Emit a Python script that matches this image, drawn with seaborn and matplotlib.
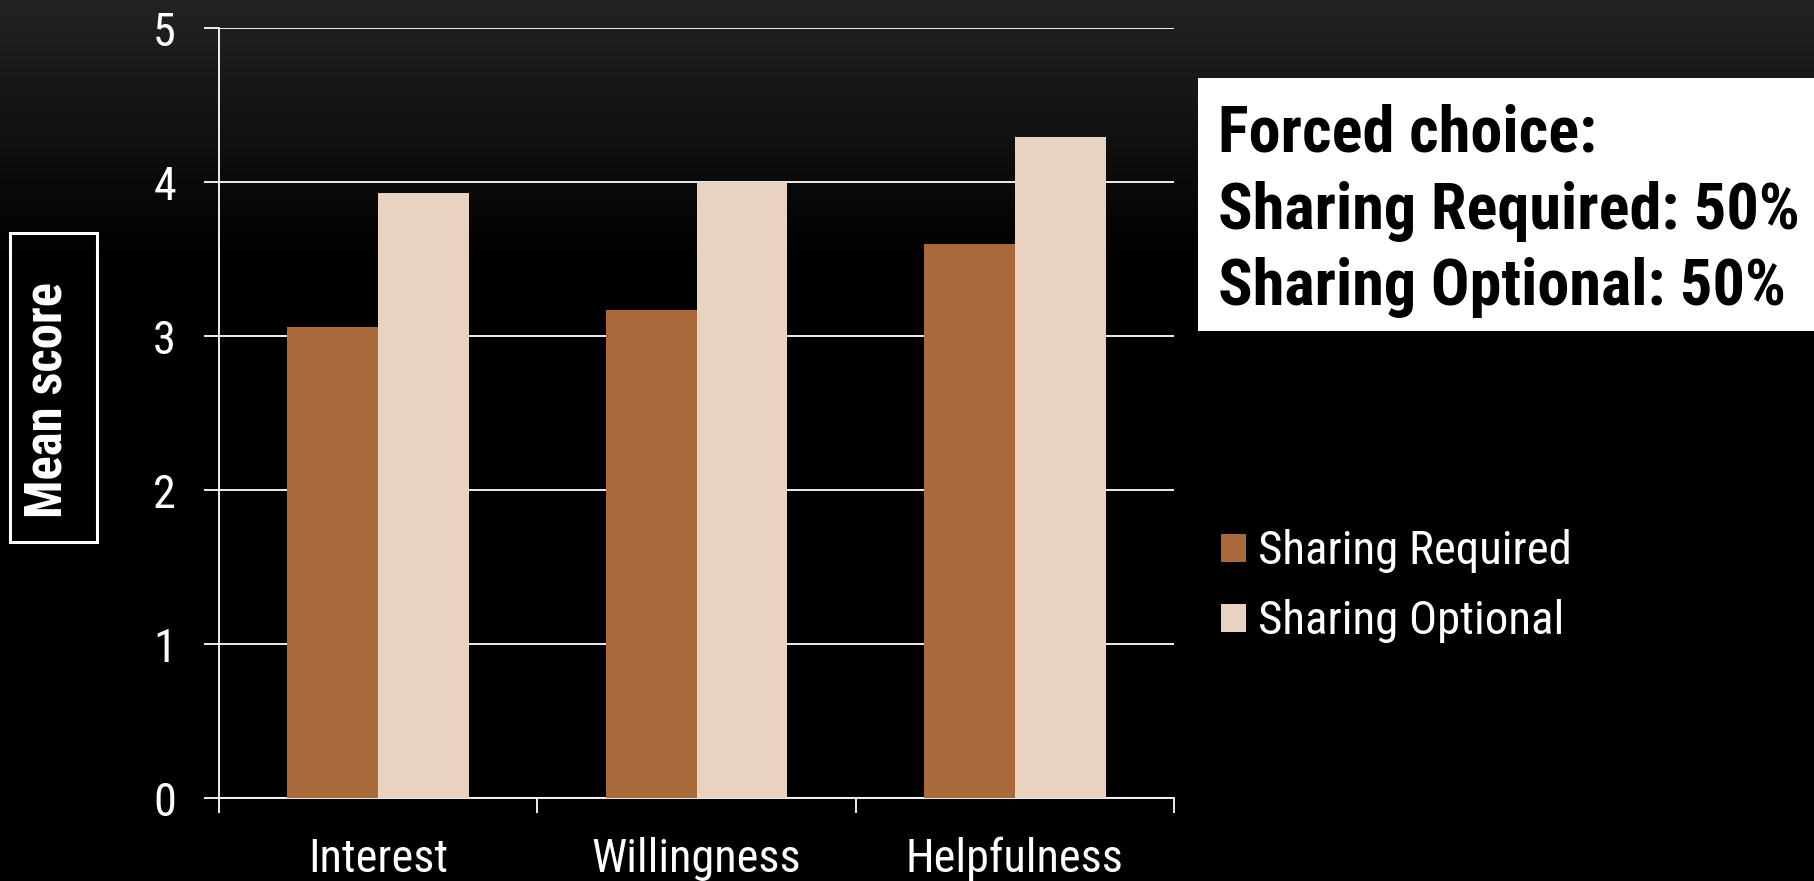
import numpy as np
import pandas as pd
import matplotlib
matplotlib.use("Agg")
import matplotlib.pyplot as plt
import seaborn as sns
from matplotlib.patches import Rectangle
from matplotlib import font_manager
from matplotlib.font_manager import FontProperties

# ---- data ----
categories = ["Interest", "Willingness", "Helpfulness"]
series_names = ["Sharing Required", "Sharing Optional"]
required_values = [3.06, 3.17, 3.60]
optional_values = [3.93, 4.00, 4.29]
y_ticks = [0, 1, 2, 3, 4, 5]
y_label = "Mean score"
box_lines = ["Forced choice:", "Sharing Required: 50%", "Sharing Optional: 50%"]
colors = ["#A9693A", "#EAD2C0"]

df = pd.DataFrame({
    "category": categories * 2,
    "condition": [series_names[0]] * 3 + [series_names[1]] * 3,
    "score": required_values + optional_values,
})

# ---- find a narrow / condensed sans font ----
def _wnum(w):
    if isinstance(w, (int, float)):
        return int(w)
    return {"normal": 400, "regular": 400, "book": 400, "bold": 700}.get(str(w).lower(), 400)

pref = ["liberation sans narrow", "arial narrow", "roboto condensed", "open sans condensed",
        "noto sans", "open sans", "dejavu sans", "roboto", "lato", "inter"]

def find_font(weight):
    best = None
    for f in font_manager.fontManager.ttflist:
        fn = f.fname.lower()
        nm = f.name.lower()
        cond = (str(f.stretch) not in ("normal", "500", "400")) or "condensed" in fn or "narrow" in fn \
            or "condensed" in nm or "narrow" in nm
        if not cond or "extra" in fn or "ultra" in fn or "semi" in fn or "mono" in fn or "serif" in nm:
            continue
        if f.style != "normal" or abs(_wnum(f.weight) - weight) > 50:
            continue
        rank = len(pref)
        for i, p in enumerate(pref):
            if nm.startswith(p):
                rank = i
                break
        if best is None or rank < best[0]:
            best = (rank, f.fname)
    return best[1] if best else None

reg_file = find_font(400)
bold_file = find_font(700)
fp_reg = FontProperties(fname=reg_file) if reg_file else FontProperties(family="Liberation Sans")
fp_bold = FontProperties(fname=bold_file) if bold_file else FontProperties(family="Liberation Sans", weight="bold")

sns.set_style("white")
plt.rcParams["font.family"] = ["Liberation Sans", "DejaVu Sans"]

W, H, DPI = 1814, 881, 100
fig = plt.figure(figsize=(W / DPI, H / DPI), dpi=DPI, facecolor="black")

def fx(px):
    return px / W

def fy(py):
    return 1 - py / H

# background gradient
bg = fig.add_axes([0, 0, 1, 1], zorder=-10)
rows = np.arange(H)
vals = np.clip(1 - rows / 260.0, 0, 1) * (0x23 / 255.0)
grad = np.repeat(vals[:, None], 4, axis=1)
bg.imshow(np.dstack([grad, grad, grad]), aspect="auto", extent=[0, 1, 0, 1])
bg.set_axis_off()

ax = fig.add_axes([fx(219), fy(798), fx(1174) - fx(219), fy(28) - fy(798)])
ax.set_facecolor("none")

sns.barplot(data=df, x="category", y="score", hue="condition", order=categories,
            hue_order=series_names, palette=colors, width=0.57, gap=0,
            linewidth=0, saturation=1, ax=ax, legend=True, zorder=3)

ax.set_ylim(0, 5)
ax.set_xlim(-0.5, 2.5)
ax.set_yticks(y_ticks)
ax.set_yticklabels([str(t) for t in y_ticks])
ax.yaxis.grid(True, color="white", linewidth=1.3, zorder=0)
ax.set_axisbelow(True)
for s in ["top", "right"]:
    ax.spines[s].set_visible(False)
for s in ["left", "bottom"]:
    ax.spines[s].set_color("white")
    ax.spines[s].set_linewidth(1.3)

ax.tick_params(axis="y", colors="white", length=11, width=1.3, pad=20,
               left=True, direction="out")
ax.tick_params(axis="x", which="major", length=0, pad=28, colors="white")
ax.set_xticks([-0.5, 0.5, 1.5, 2.5], minor=True)
ax.tick_params(axis="x", which="minor", length=10.5, width=1.3, colors="white",
               direction="out", bottom=True)
ax.set_xlabel("")
ax.set_ylabel(y_label, color="white")

handles, labels = ax.get_legend_handles_labels()
ax.legend_.remove()

# text box
fig.patches.append(Rectangle((fx(1198), fy(331)), 1 - fx(1198), fy(78) - fy(331),
                             transform=fig.transFigure, facecolor="white",
                             edgecolor="none", zorder=5))
box_texts = []
for i, line in enumerate(box_lines):
    t = fig.text(fx(1218), fy([152, 229, 305][i]), line, color="black",
                 va="baseline", ha="left", zorder=6, fontproperties=fp_bold.copy())
    box_texts.append(t)

fig.patches.append(Rectangle((fx(10), fy(542)), fx(97) - fx(10), fy(233) - fy(542),
                             transform=fig.transFigure, facecolor="none",
                             edgecolor="white", linewidth=2.2, zorder=5))

fig.canvas.draw()
r = fig.canvas.get_renderer()

def width_at(fp, text, size):
    t = fig.text(0, 0, text, fontproperties=fp, fontsize=size)
    e = t.get_window_extent(r)
    t.remove()
    return e.width

# fit font sizes to reference text sizes (px)
base = 40.0
tick_size = 1.1 * base * 127 / width_at(fp_reg, "Interest", base)
leg_size = 1.04 * base * 302 / width_at(fp_reg, "Sharing Required", base)
box_size = 1.02 * base * 570 / width_at(fp_bold, "Sharing Required: 50%", base)
ylab_size = base * 236 / width_at(fp_bold, y_label, base)

for lab in ax.get_xticklabels() + ax.get_yticklabels():
    lab.set_fontproperties(fp_reg)
    lab.set_fontsize(tick_size)
    lab.set_color("white")
for t in box_texts:
    t.set_fontsize(box_size)

ax.yaxis.label.set_fontproperties(fp_bold)
ax.yaxis.label.set_fontsize(ylab_size)
ax.yaxis.label.set(ha="center", va="center")
ax.yaxis.set_label_coords(-0.18, 0.517)

leg_px = leg_size * DPI / 72.0
leg_fp = fp_reg.copy()
leg_fp.set_size(leg_size)

def make_legend(spacing, anchor):
    lg = fig.legend(handles, labels, loc="upper left",
                    bbox_to_anchor=anchor, frameon=False,
                    prop=leg_fp, handlelength=25 / leg_px, handleheight=25 / leg_px,
                    handletextpad=12 / leg_px, labelspacing=spacing, borderpad=0,
                    borderaxespad=0)
    for t in lg.get_texts():
        t.set_color("white")
    return lg

leg = make_legend(0.4, (fx(1221), fy(520)))
fig.canvas.draw()
txt_h = leg.get_texts()[0].get_window_extent(r).height
leg.remove()
leg = make_legend(max(0.0, (70 - txt_h) / leg_px), (fx(1221), fy(520)))
fig.canvas.draw()
pe = leg.get_patches()[0].get_window_extent(r)
dx = 1221 - pe.x0
dy_top = (H - 534) - pe.y1
leg.set_bbox_to_anchor((fx(1221) + dx / W, fy(520) + dy_top / H), transform=fig.transFigure)

fig.savefig("out.png", dpi=DPI, facecolor="black")
